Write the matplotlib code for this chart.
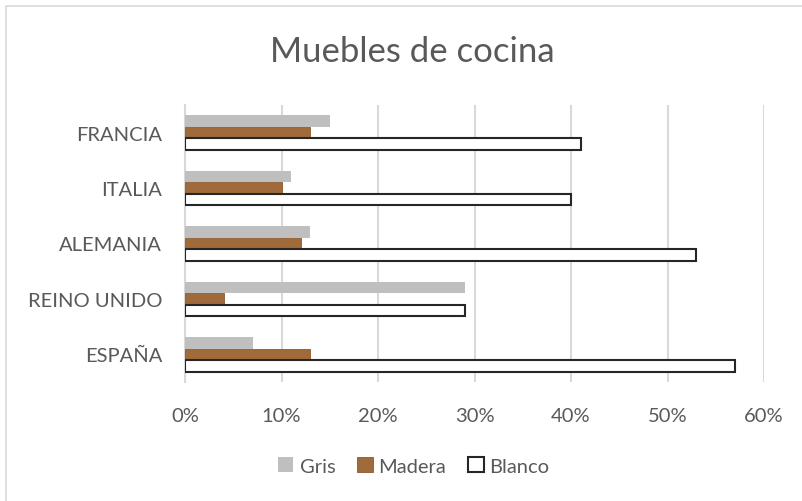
import numpy as np
import matplotlib.pyplot as plt
from matplotlib.patches import Rectangle
from matplotlib.ticker import FuncFormatter

# datos
paises = ['FRANCIA', 'ITALIA', 'ALEMANIA', 'REINO UNIDO', 'ESPAÑA']
gris = [15, 11, 13, 29, 7]
madera = [13, 10, 12, 4, 13]
blanco = [41, 40, 53, 29, 57]

plt.rcParams['font.family'] = ['Lato', 'DejaVu Sans']
txt = '#595959'

fig = plt.figure(figsize=(8.02, 5.02), dpi=100)
ax = fig.add_axes([185/802, 1-383/502, (764-185)/802, (383-106)/502])

# marco del grafico (recortado a la derecha y abajo)
fig.patches.append(Rectangle((6/802, -0.1), 1.2, 1-7/502+0.1, transform=fig.transFigure,
                             fill=False, edgecolor='#D9D9D9', linewidth=1.2))

y = np.arange(len(paises))
h = 0.207
ax.barh(y - h, gris, height=h, color='#BFBFBF', label='Gris', zorder=3)
ax.barh(y, madera, height=h, color='#A06A3A', edgecolor='#8A5A2E', linewidth=0.6,
        label='Madera', zorder=3)
ax.barh(y + h, blanco, height=h, color='white', edgecolor='#262626', linewidth=1.5,
        label='Blanco', zorder=3)

ax.set_xlim(0, 60)
ax.set_ylim(len(paises) - 0.5, -0.5)
ax.set_xticks(np.arange(0, 61, 10))
ax.xaxis.set_major_formatter(FuncFormatter(lambda v, p: '%d%%' % v))
ax.set_yticks(y)
ax.set_yticklabels(paises)
ax.tick_params(length=0, labelsize=14.5, colors=txt)
ax.tick_params(axis='x', pad=18)
ax.tick_params(axis='y', pad=16.5)
ax.grid(axis='x', color='#D9D9D9', linewidth=1.5, zorder=0)
for s in ['top', 'right', 'bottom']:
    ax.spines[s].set_visible(False)
ax.spines['left'].set_color('#D9D9D9')
ax.spines['left'].set_linewidth(1.5)

fig.text(412/802, 1-52/502, 'Muebles de cocina', ha='center', va='center',
         fontsize=25, color=txt)

leg = fig.legend(loc='center', bbox_to_anchor=(414/802, 1-467/502), ncol=3,
                 frameon=False, fontsize=14.5, handlelength=0.75, handleheight=0.75,
                 handletextpad=0.3, columnspacing=1.1)
for t in leg.get_texts():
    t.set_color(txt)

fig.savefig('out.png', dpi=100)
